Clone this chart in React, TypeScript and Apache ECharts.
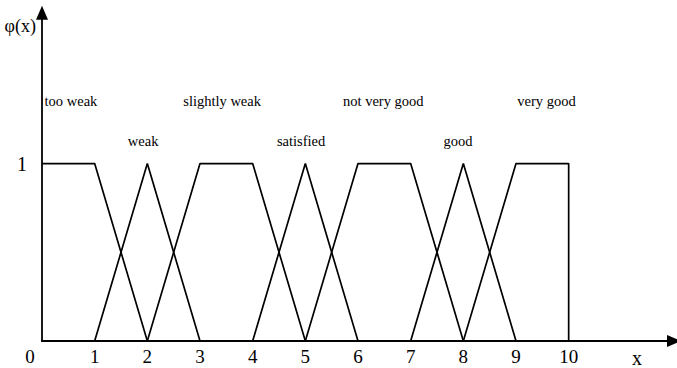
import React, { useEffect, useRef } from "react";
import * as echarts from "echarts";

// x positions of the tick labels
const xTicks = [0, 1, 2, 3, 4, 5, 6, 7, 8, 9, 10];

// membership functions: [x, φ(x)] break points
const tooWeak = [[0, 1], [1, 1], [2, 0]];
const weak = [[1, 0], [2, 1], [3, 0]];
const slightlyWeak = [[2, 0], [3, 1], [4, 1], [5, 0]];
const satisfied = [[4, 0], [5, 1], [6, 0]];
const notVeryGood = [[5, 0], [6, 1], [7, 1], [8, 0]];
const good = [[7, 0], [8, 1], [9, 0]];
const veryGood = [[8, 0], [9, 1], [10, 1], [10, 0]];

// term names and where their names are written
const termNames = ["too weak", "weak", "slightly weak", "satisfied", "not very good", "good", "very good"];
const termLabelX = [0.55, 1.92, 3.42, 4.92, 6.48, 7.9, 9.58];
const termLabelY = [1.35, 1.125, 1.35, 1.125, 1.35, 1.125, 1.35];

const SERIF = "Liberation Serif";

export default function App() {
  const ref = useRef<HTMLDivElement>(null);
  useEffect(() => {
    if (!ref.current) return;
    const chart = echarts.init(ref.current, undefined, { renderer: "svg" });
    const curves = [tooWeak, weak, slightlyWeak, satisfied, notVeryGood, good, veryGood];
    const lineStyle = { color: "#000", width: 1.7 };
    chart.setOption({
      animation: false,
      backgroundColor: "#fff",
      textStyle: { fontFamily: SERIF, color: "#000" },
      grid: { left: 42, right: 1, top: 12.7, bottom: 26 },
      xAxis: {
        type: "value",
        min: 0,
        max: 12,
        interval: 1,
        splitLine: { show: false },
        axisTick: { show: false },
        axisLine: {
          onZero: false,
          lineStyle: { color: "#000", width: 1.8 },
          symbol: ["none", "triangle"],
          symbolSize: [12, 14],
        },
        axisLabel: {
          margin: 6,
          color: "#000",
          fontFamily: SERIF,
          fontSize: 19,
          formatter: (v: number) =>
            xTicks.indexOf(v) === 0 ? "{zero|0}" : xTicks.indexOf(v) > 0 ? String(v) : "",
          rich: {
            zero: { fontFamily: SERIF, fontSize: 19, color: "#000", padding: [0, 24, 0, 0] },
          },
        },
        name: "{n|x}",
        nameLocation: "end",
        nameGap: -37,
        nameTextStyle: {
          color: "#000",
          fontFamily: SERIF,
          fontSize: 20,
          align: "center",
          verticalAlign: "top",
          rich: {
            n: { fontFamily: SERIF, fontSize: 20, color: "#000", padding: [7, 0, 0, 0] },
          },
        },
      },
      yAxis: {
        type: "value",
        min: 0,
        max: 1.85,
        interval: 1,
        splitLine: { show: false },
        axisTick: { show: false },
        axisLine: {
          onZero: false,
          lineStyle: { color: "#000", width: 1.8 },
          symbol: ["none", "triangle"],
          symbolSize: [12, 14],
        },
        axisLabel: {
          margin: 15,
          color: "#000",
          fontFamily: SERIF,
          fontSize: 20,
          formatter: (v: number) => (v === 1 ? "1" : ""),
        },
        name: "φ(x)",
        nameLocation: "end",
        nameGap: -13,
        nameTextStyle: {
          color: "#000",
          fontFamily: SERIF,
          fontSize: 18,
          align: "right",
          verticalAlign: "middle",
          padding: [0, 6, 0, 0],
        },
      },
      series: [
        ...curves.map((d, i) => ({
          name: termNames[i],
          type: "line",
          data: d,
          symbol: "none",
          lineStyle,
          silent: true,
        })),
        {
          type: "custom",
          silent: true,
          data: termNames.map((n, i) => [termLabelX[i], termLabelY[i], i]),
          renderItem: (params: any, api: any) => {
            const p = api.coord([api.value(0), api.value(1)]);
            return {
              type: "text",
              x: p[0],
              y: p[1],
              style: {
                text: termNames[api.value(2)],
                fill: "#000",
                fontFamily: SERIF,
                fontSize: 14.5,
                align: "center",
                verticalAlign: "middle",
              },
            };
          },
        },
      ],
    });
    return () => chart.dispose();
  }, []);
  return (
    <div
      ref={ref}
      style={{ position: "fixed", left: 0, top: 0, width: 677, height: 368, background: "#fff" }}
    />
  );
}
